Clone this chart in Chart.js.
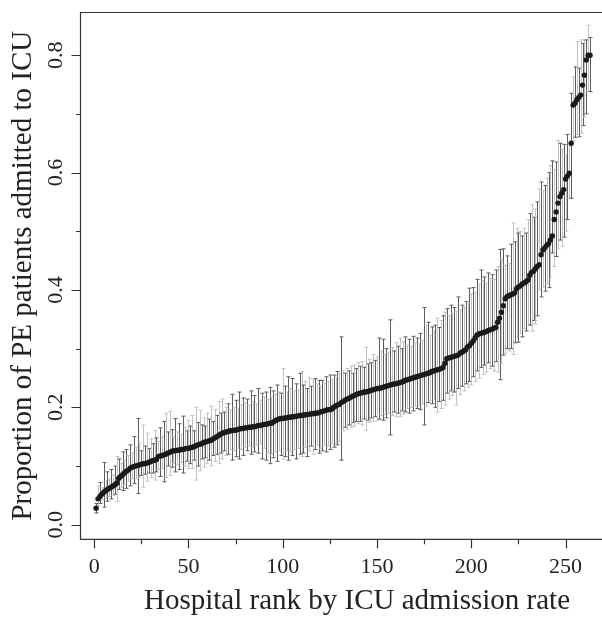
<!DOCTYPE html>
<html>
<head>
<meta charset="utf-8">
<script src="https://cdn.jsdelivr.net/npm/chart.js@4.4.0/dist/chart.umd.min.js"></script>
<style>
  html, body { margin: 0; padding: 0; background: #fff; }
  #wrap { width: 602px; height: 619px; }
</style>
</head>
<body>
<div id="wrap"><canvas id="rankChart" width="602" height="619"></canvas></div>
<script>
// ICU admission proportion per hospital, hospitals sorted by rate (rank 1..263)
const rates = [
  0.028, 0.044, 0.048, 0.052, 0.055, 0.058, 0.060, 0.062, 0.064, 0.066,
  0.068, 0.071, 0.079, 0.082, 0.085, 0.088, 0.091, 0.093, 0.096, 0.098,
  0.099, 0.100, 0.101, 0.102, 0.103, 0.104, 0.104, 0.105, 0.106, 0.108,
  0.109, 0.110, 0.111, 0.116, 0.117, 0.118, 0.119, 0.120, 0.122, 0.123,
  0.125, 0.126, 0.126, 0.127, 0.127, 0.128, 0.128, 0.129, 0.130, 0.130,
  0.131, 0.132, 0.133, 0.135, 0.136, 0.137, 0.138, 0.140, 0.141, 0.142,
  0.143, 0.144, 0.146, 0.148, 0.150, 0.152, 0.154, 0.156, 0.157, 0.158,
  0.159, 0.160, 0.160, 0.161, 0.161, 0.162, 0.163, 0.164, 0.164, 0.165,
  0.165, 0.166, 0.166, 0.167, 0.167, 0.168, 0.169, 0.169, 0.170, 0.171,
  0.171, 0.172, 0.173, 0.173, 0.175, 0.177, 0.179, 0.180, 0.181, 0.181,
  0.182, 0.182, 0.183, 0.183, 0.184, 0.184, 0.185, 0.185, 0.186, 0.186,
  0.187, 0.187, 0.188, 0.188, 0.189, 0.189, 0.190, 0.190, 0.191, 0.192,
  0.193, 0.194, 0.195, 0.196, 0.196, 0.197, 0.200, 0.202, 0.204, 0.205,
  0.208, 0.210, 0.212, 0.214, 0.215, 0.217, 0.219, 0.220, 0.222, 0.223,
  0.224, 0.225, 0.226, 0.226, 0.227, 0.228, 0.229, 0.230, 0.231, 0.232,
  0.232, 0.233, 0.234, 0.235, 0.236, 0.237, 0.238, 0.239, 0.240, 0.240,
  0.241, 0.242, 0.243, 0.244, 0.246, 0.247, 0.248, 0.249, 0.250, 0.251,
  0.252, 0.253, 0.254, 0.255, 0.256, 0.257, 0.258, 0.259, 0.261, 0.262,
  0.263, 0.264, 0.265, 0.266, 0.268, 0.275, 0.283, 0.284, 0.285, 0.286,
  0.287, 0.288, 0.289, 0.292, 0.294, 0.296, 0.298, 0.303, 0.305, 0.309,
  0.313, 0.318, 0.323, 0.325, 0.326, 0.327, 0.328, 0.329, 0.331, 0.332,
  0.333, 0.335, 0.336, 0.345, 0.352, 0.362, 0.373, 0.385, 0.389, 0.390,
  0.392, 0.393, 0.395, 0.402, 0.405, 0.407, 0.410, 0.412, 0.414, 0.417,
  0.425, 0.430, 0.432, 0.436, 0.440, 0.443, 0.460, 0.468, 0.472, 0.476,
  0.479, 0.485, 0.492, 0.520, 0.533, 0.548, 0.559, 0.565, 0.571, 0.589,
  0.594, 0.599, 0.650, 0.715, 0.718, 0.724, 0.728, 0.732, 0.749, 0.766,
  0.792, 0.800, 0.800
];

// upper end of each hospital's interval
const upper = [
  0.036, 0.066, 0.072, 0.063, 0.106, 0.075, 0.090, 0.078, 0.094, 0.085,
  0.100, 0.116, 0.112, 0.104, 0.124, 0.110, 0.128, 0.118, 0.136, 0.122,
  0.150, 0.132, 0.181, 0.140, 0.126, 0.170, 0.134, 0.156, 0.130, 0.146,
  0.138, 0.160, 0.148, 0.142, 0.165, 0.150, 0.176, 0.190, 0.158, 0.193,
  0.162, 0.150, 0.181, 0.158, 0.172, 0.154, 0.185, 0.166, 0.160, 0.178,
  0.168, 0.186, 0.160, 0.200, 0.174, 0.195, 0.170, 0.182, 0.168, 0.190,
  0.180, 0.202, 0.176, 0.196, 0.186, 0.210, 0.190, 0.214, 0.192, 0.200,
  0.206, 0.196, 0.222, 0.200, 0.212, 0.198, 0.226, 0.204, 0.216, 0.208,
  0.214, 0.204, 0.228, 0.210, 0.220, 0.206, 0.232, 0.212, 0.224, 0.218,
  0.226, 0.214, 0.234, 0.218, 0.228, 0.222, 0.238, 0.226, 0.224, 0.266,
  0.236, 0.226, 0.252, 0.232, 0.249, 0.228, 0.240, 0.230, 0.258, 0.261,
  0.238, 0.244, 0.232, 0.250, 0.236, 0.248, 0.249, 0.240, 0.246, 0.236,
  0.246, 0.241, 0.252, 0.244, 0.255, 0.248, 0.255, 0.250, 0.261, 0.258,
  0.320, 0.262, 0.258, 0.266, 0.262, 0.270, 0.258, 0.272, 0.266, 0.276,
  0.270, 0.278, 0.268, 0.302, 0.274, 0.282, 0.276, 0.290, 0.280, 0.286,
  0.318, 0.296, 0.316, 0.290, 0.300, 0.294, 0.349, 0.302, 0.296, 0.310,
  0.304, 0.318, 0.300, 0.312, 0.320, 0.306, 0.316, 0.304, 0.321, 0.310,
  0.318, 0.308, 0.326, 0.314, 0.370, 0.340, 0.345, 0.322, 0.337, 0.330,
  0.340, 0.352, 0.336, 0.348, 0.356, 0.362, 0.368, 0.356, 0.374, 0.360,
  0.370, 0.364, 0.388, 0.366, 0.374, 0.370, 0.380, 0.376, 0.403, 0.394,
  0.404, 0.396, 0.418, 0.410, 0.434, 0.416, 0.422, 0.412, 0.429, 0.420,
  0.426, 0.418, 0.434, 0.440, 0.469, 0.452, 0.470, 0.442, 0.458, 0.445,
  0.478, 0.514, 0.482, 0.505, 0.497, 0.500, 0.492, 0.505, 0.497, 0.520,
  0.530, 0.545, 0.524, 0.538, 0.550, 0.572, 0.584, 0.570, 0.578, 0.590,
  0.600, 0.612, 0.620, 0.605, 0.618, 0.655, 0.650, 0.640, 0.648, 0.630,
  0.665, 0.650, 0.735, 0.763, 0.780, 0.823, 0.778, 0.826, 0.820, 0.826,
  0.826, 0.851, 0.830
];

// lower end of each hospital's interval
const lower = [
  0.020, 0.032, 0.036, 0.042, 0.030, 0.045, 0.040, 0.048, 0.044, 0.050,
  0.052, 0.040, 0.060, 0.064, 0.058, 0.068, 0.062, 0.074, 0.066, 0.078,
  0.070, 0.078, 0.053, 0.080, 0.084, 0.064, 0.086, 0.074, 0.088, 0.080,
  0.088, 0.076, 0.090, 0.094, 0.082, 0.096, 0.073, 0.080, 0.100, 0.084,
  0.098, 0.104, 0.090, 0.102, 0.094, 0.106, 0.088, 0.100, 0.108, 0.096,
  0.104, 0.096, 0.110, 0.076, 0.100, 0.092, 0.112, 0.098, 0.114, 0.104,
  0.110, 0.100, 0.118, 0.108, 0.120, 0.104, 0.122, 0.112, 0.126, 0.118,
  0.120, 0.128, 0.110, 0.126, 0.116, 0.130, 0.112, 0.128, 0.118, 0.132,
  0.126, 0.134, 0.120, 0.132, 0.124, 0.136, 0.122, 0.138, 0.112, 0.130,
  0.110, 0.122, 0.104, 0.120, 0.114, 0.124, 0.108, 0.126, 0.118, 0.112,
  0.116, 0.126, 0.110, 0.124, 0.118, 0.128, 0.112, 0.130, 0.120, 0.116,
  0.122, 0.132, 0.116, 0.126, 0.134, 0.120, 0.128, 0.136, 0.122, 0.130,
  0.126, 0.136, 0.124, 0.134, 0.128, 0.138, 0.132, 0.140, 0.136, 0.142,
  0.110, 0.160, 0.166, 0.162, 0.170, 0.166, 0.174, 0.168, 0.176, 0.172,
  0.176, 0.170, 0.180, 0.161, 0.178, 0.174, 0.182, 0.176, 0.184, 0.178,
  0.180, 0.186, 0.178, 0.188, 0.182, 0.190, 0.153, 0.186, 0.192, 0.184,
  0.190, 0.184, 0.194, 0.188, 0.192, 0.198, 0.190, 0.200, 0.194, 0.202,
  0.198, 0.204, 0.196, 0.206, 0.170, 0.202, 0.208, 0.212, 0.206, 0.214,
  0.200, 0.192, 0.210, 0.198, 0.212, 0.204, 0.224, 0.214, 0.228, 0.220,
  0.226, 0.204, 0.232, 0.222, 0.236, 0.228, 0.240, 0.234, 0.244, 0.238,
  0.252, 0.244, 0.262, 0.250, 0.268, 0.256, 0.272, 0.260, 0.276, 0.266,
  0.270, 0.262, 0.278, 0.260, 0.247, 0.274, 0.289, 0.292, 0.300, 0.296,
  0.300, 0.290, 0.310, 0.318, 0.311, 0.326, 0.320, 0.334, 0.330, 0.340,
  0.340, 0.330, 0.348, 0.342, 0.356, 0.400, 0.388, 0.405, 0.398, 0.410,
  0.404, 0.420, 0.463, 0.440, 0.457, 0.470, 0.485, 0.475, 0.490, 0.500,
  0.520, 0.556, 0.556, 0.655, 0.660, 0.665, 0.661, 0.667, 0.680, 0.695,
  0.700, 0.738, 0.738
];

const ranks = rates.map((_, i) => i + 1);

const xMajorTicks = [0, 50, 100, 150, 200, 250];
const xMinorTicks = [25, 75, 125, 175, 225];
const xTickLabels = ['0', '50', '100', '150', '200', '250'];
const yMajorTicks = [0, 0.2, 0.4, 0.6, 0.8];
const yMinorTicks = [0.1, 0.3, 0.5, 0.7];
const yTickLabels = ['0.0', '0.2', '0.4', '0.6', '0.8'];

const X_TITLE = 'Hospital rank by ICU admission rate';
const Y_TITLE = 'Proportion of PE patients admitted to ICU';

const SERIF = '"Liberation Serif", "Times New Roman", serif';
const BAR_DARK = '#5c5c5c';
const BAR_LIGHT = '#c2c2c2';

// interval whiskers, drawn under the points
const errorBars = {
  id: 'errorBars',
  beforeDatasetsDraw(chart) {
    const { ctx, scales: { x, y } } = chart;
    ctx.save();
    ctx.lineWidth = 1;
    ranks.forEach((r, i) => {
      const px = Math.round(x.getPixelForValue(r)) + 0.5;
      const top = y.getPixelForValue(upper[i]);
      const bot = y.getPixelForValue(lower[i]);
      ctx.strokeStyle = i % 2 === 0 ? BAR_DARK : BAR_LIGHT;
      ctx.beginPath();
      ctx.moveTo(px, top);
      ctx.lineTo(px, bot);
      ctx.moveTo(px - 2, top);
      ctx.lineTo(px + 2, top);
      ctx.moveTo(px - 2, bot);
      ctx.lineTo(px + 2, bot);
      ctx.stroke();
    });
    ctx.restore();
  }
};

// R-style box, ticks and labels
const rAxes = {
  id: 'rAxes',
  afterDraw(chart) {
    const { ctx, chartArea: a, scales: { x, y } } = chart;
    ctx.save();
    ctx.strokeStyle = '#333';
    ctx.lineWidth = 1.2;
    const L = a.left + 0.5, T = a.top + 0.5, B = a.bottom;
    ctx.beginPath();
    ctx.moveTo(a.right + 5, T);
    ctx.lineTo(L, T);
    ctx.lineTo(L, B);
    ctx.lineTo(a.right + 5, B);
    ctx.stroke();

    ctx.beginPath();
    xMajorTicks.forEach(v => {
      const px = Math.round(x.getPixelForValue(v)) + 0.5;
      ctx.moveTo(px, B); ctx.lineTo(px, B + 9);
    });
    xMinorTicks.forEach(v => {
      const px = Math.round(x.getPixelForValue(v)) + 0.5;
      ctx.moveTo(px, B); ctx.lineTo(px, B + 5);
    });
    yMajorTicks.forEach(v => {
      const py = Math.round(y.getPixelForValue(v)) + 0.5;
      ctx.moveTo(L, py); ctx.lineTo(L - 9, py);
    });
    yMinorTicks.forEach(v => {
      const py = Math.round(y.getPixelForValue(v)) + 0.5;
      ctx.moveTo(L, py); ctx.lineTo(L - 4.5, py);
    });
    ctx.stroke();

    ctx.fillStyle = '#222';
    ctx.font = '22px ' + SERIF;
    ctx.textAlign = 'center';
    ctx.textBaseline = 'alphabetic';
    xMajorTicks.forEach((v, i) => {
      ctx.fillText(xTickLabels[i], x.getPixelForValue(v), 573);
    });
    yMajorTicks.forEach((v, i) => {
      ctx.save();
      ctx.translate(62, y.getPixelForValue(v));
      ctx.rotate(-Math.PI / 2);
      ctx.fillText(yTickLabels[i], 0, 0);
      ctx.restore();
    });

    ctx.font = '29px ' + SERIF;
    ctx.fillText(X_TITLE, 357, 609);
    ctx.save();
    ctx.translate(31, (a.top + a.bottom) / 2);
    ctx.rotate(-Math.PI / 2);
    ctx.fillText(Y_TITLE, 0, 0);
    ctx.restore();
    ctx.restore();
  }
};

new Chart(document.getElementById('rankChart'), {
  type: 'scatter',
  data: {
    datasets: [{
      data: ranks.map((r, i) => ({ x: r, y: rates[i] })),
      pointRadius: 2.7,
      pointBackgroundColor: '#1d1919',
      pointBorderWidth: 0,
      pointHoverRadius: 2.7
    }]
  },
  options: {
    responsive: false,
    animation: false,
    events: [],
    layout: { padding: { left: 80, top: 12, right: 0, bottom: 79.7 } },
    scales: {
      x: { type: 'linear', min: -7.55, max: 267.9, display: false },
      y: { type: 'linear', min: -0.0249, max: 0.8736, display: false }
    },
    plugins: {
      legend: { display: false },
      tooltip: { enabled: false }
    }
  },
  plugins: [errorBars, rAxes]
});
</script>
</body>
</html>
